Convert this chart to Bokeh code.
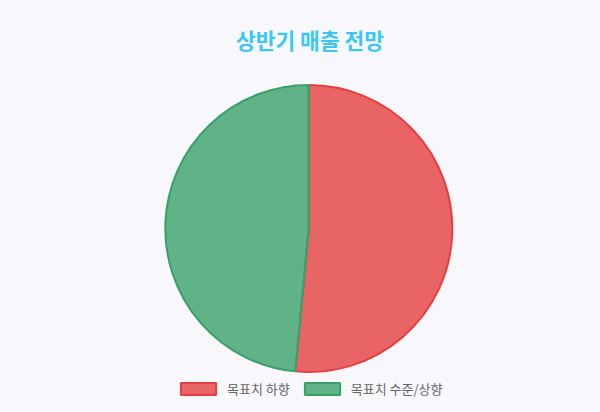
import numpy as np
from bokeh.plotting import figure
from bokeh.models import ColumnDataSource, Range1d, Legend, LegendItem
from bokeh.core.properties import value
from bokeh.embed import file_html
from bokeh.resources import INLINE

title_text = "상반기 매출 전망"
categories = ["목표치 하향", "목표치 수준/상향"]
values = [51.5, 48.5]
fill_colors = ["rgba(229,62,62,0.8)", "rgba(56,161,105,0.8)"]
line_colors = ["#E53E3E", "#38A169"]

W, H = 600, 412
BG = "#F8F8FC"
FONT = "Noto Sans CJK KR"

fr = np.array(values) / sum(values)
cum = np.concatenate([[0], np.cumsum(fr)])
# clockwise from 12 o'clock
start = [np.pi / 2 - 2 * np.pi * cum[i + 1] for i in range(len(values))]
end = [np.pi / 2 - 2 * np.pi * cum[i] for i in range(len(values))]

cx, cy, r = 308.3, 184, 143.5

p = figure(width=W, height=H, output_backend="svg", toolbar_location=None,
           x_range=Range1d(0, W), y_range=Range1d(0, H),
           min_border=0, outline_line_color=None,
           background_fill_color=BG, border_fill_color=BG)
p.axis.visible = False
p.grid.visible = False

rends = []
for i in range(len(values)):
    rr = p.wedge(x=cx, y=cy, radius=r, radius_units="screen",
                 start_angle=start[i], end_angle=end[i],
                 fill_color=fill_colors[i], line_color=line_colors[i], line_width=2)
    rends.append(rr)

p.text(x=[309.5], y=[H - 39], text=[title_text],
       text_font=value(FONT), text_font_size="21.5px", text_font_style="bold",
       text_color="#38C8F8", text_align="center", text_baseline="middle")

legend = Legend(items=[LegendItem(label=categories[i], renderers=[rends[i]]) for i in range(len(values))],
                location=(176, 14), orientation="horizontal",
                glyph_width=44, glyph_height=15, label_standoff=7, spacing=10,
                padding=0, margin=0, border_line_color=None,
                background_fill_alpha=0,
                label_text_font=FONT, label_text_font_size="13px",
                label_text_color="#666666", label_height=15)
p.add_layout(legend, "center")

open("out.html", "w").write(file_html(p, INLINE))
